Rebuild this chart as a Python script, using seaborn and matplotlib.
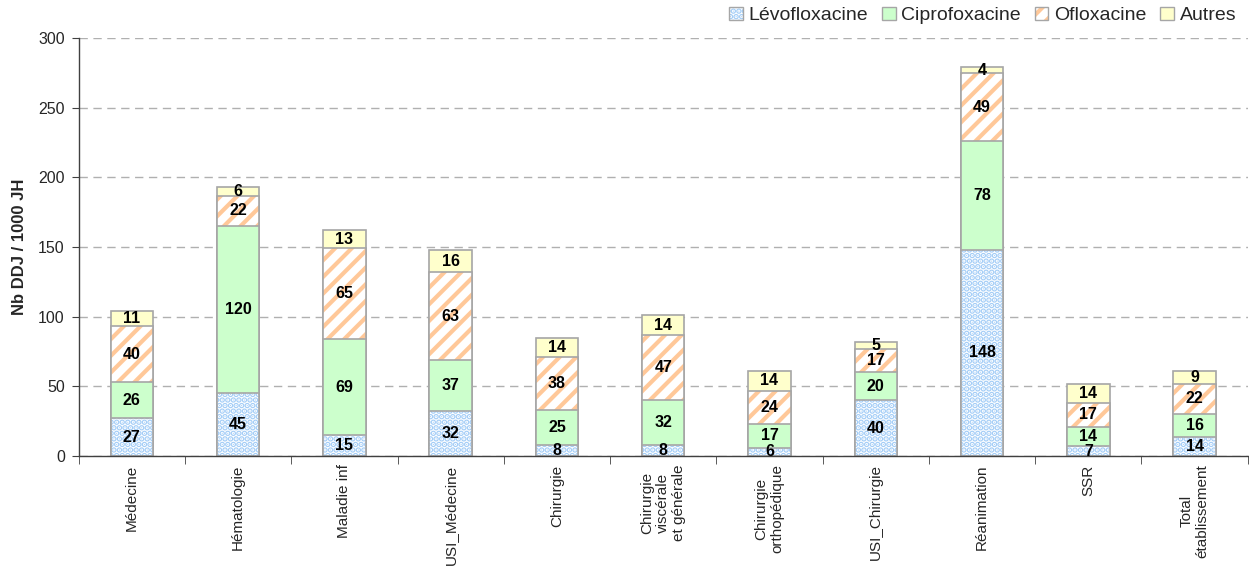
import matplotlib
matplotlib.use("Agg")
import matplotlib.pyplot as plt
from matplotlib.patches import Patch
from matplotlib.ticker import FixedLocator
import seaborn as sns
import numpy as np

categories = ["Médecine", "Hématologie", "Maladie inf", "USI_Médecine", "Chirurgie",
              "Chirurgie\nviscérale\net générale", "Chirurgie\northopédique",
              "USI_Chirurgie", "Réanimation", "SSR", "Total\nétablissement"]
levofloxacine = [27, 45, 15, 32, 8, 8, 6, 40, 148, 7, 14]
ciprofloxacine = [26, 120, 69, 37, 25, 32, 17, 20, 78, 14, 16]
ofloxacine = [40, 22, 65, 63, 38, 47, 24, 17, 49, 17, 22]
autres = [11, 6, 13, 16, 14, 14, 14, 5, 4, 14, 9]
series_names = ["Lévofloxacine", "Ciprofoxacine", "Ofloxacine", "Autres"]
y_ticks = [0, 50, 100, 150, 200, 250, 300]

sns.set_style("white")
plt.rcParams['font.family'] = ['Liberation Sans', 'DejaVu Sans']
plt.rcParams['hatch.linewidth'] = 3.0

EDGE = "#a6a6a6"
BLUE = "#a3cdf7"
GREEN = "#ccffcc"
ORANGE = "#ffc899"
YELLOW = "#ffffcc"
W = 0.4

fig = plt.figure(figsize=(12.49, 5.78), dpi=100)
ax = fig.add_axes([0.063, 0.211, 0.936, 0.723])

series = [levofloxacine, ciprofloxacine, ofloxacine, autres]
arr = np.array(series, dtype=float)
cum = np.cumsum(arr, axis=0)


def layer(values, face, hatch=None, hcolor=None):
    n0 = len(ax.patches)
    sns.barplot(x=categories, y=values, color=face, saturation=1, width=W, ax=ax)
    for p in ax.patches[n0:]:
        if hatch:
            p.set_facecolor("white")
            p.set_hatch(hatch)
            p.set_edgecolor(hcolor)
            p.set_linewidth(0)
        else:
            p.set_facecolor(face)
            p.set_edgecolor(EDGE)
            p.set_linewidth(1.2)
    if hatch:
        n1 = len(ax.patches)
        sns.barplot(x=categories, y=values, color=face, saturation=1, width=W, ax=ax)
        for p in ax.patches[n1:]:
            p.set_facecolor("none")
            p.set_edgecolor(EDGE)
            p.set_linewidth(1.2)


layer(cum[3], YELLOW)
layer(cum[2], ORANGE, hatch="//", hcolor=ORANGE)
layer(cum[1], GREEN)
layer(cum[0], BLUE, hatch="...", hcolor=BLUE)

# value labels
for s in range(4):
    for i in range(len(categories)):
        v = arr[s, i]
        ax.text(i, cum[s, i] - v / 2, f"{int(v)}", ha="center", va="center",
                fontsize=11.5, fontweight="bold", color="black", zorder=10)

ax.set_ylim(0, 300)
ax.set_xlim(-0.5, len(categories) - 0.5)
ax.set_yticks(y_ticks)
ax.set_yticklabels([str(t) for t in y_ticks], fontsize=11.5)
ax.yaxis.grid(True, linestyle=(0, (6, 4)), color="#b0b0b0", linewidth=1)
ax.set_axisbelow(True)

ax.set_xticks(range(len(categories)))
ax.set_xticklabels(categories, rotation=90, fontsize=11, ha="center",
                   va="top", multialignment="center")
ax.xaxis.set_minor_locator(FixedLocator(np.arange(-0.5, len(categories), 1.0)))
ax.tick_params(axis="x", which="major", length=0, pad=6)
ax.tick_params(axis="x", which="minor", length=6, direction="out", color="#404040", bottom=True)
ax.tick_params(axis="y", which="major", length=5, direction="out", color="#404040", left=True, pad=5)

for side in ["top", "right"]:
    ax.spines[side].set_visible(False)
for side in ["left", "bottom"]:
    ax.spines[side].set_color("#404040")
    ax.spines[side].set_linewidth(1)

ax.set_ylabel("Nb DDJ / 1000 JH", fontsize=12, fontweight="bold", labelpad=8)
ax.set_xlabel("")

handles = [
    (Patch(facecolor="white", edgecolor=BLUE, hatch="...", linewidth=0),
     Patch(facecolor="none", edgecolor=EDGE, linewidth=1)),
    Patch(facecolor=GREEN, edgecolor=EDGE, linewidth=1),
    (Patch(facecolor="white", edgecolor=ORANGE, hatch="//", linewidth=0),
     Patch(facecolor="none", edgecolor=EDGE, linewidth=1)),
    Patch(facecolor=YELLOW, edgecolor=EDGE, linewidth=1),
]
ax.legend(handles, series_names, loc="lower right", bbox_to_anchor=(1.0, 1.005),
          ncol=4, frameon=False, fontsize=14, handlelength=0.7, handleheight=0.7,
          handletextpad=0.3, columnspacing=0.7, borderaxespad=0.2)

fig.savefig("out.png", dpi=100)
